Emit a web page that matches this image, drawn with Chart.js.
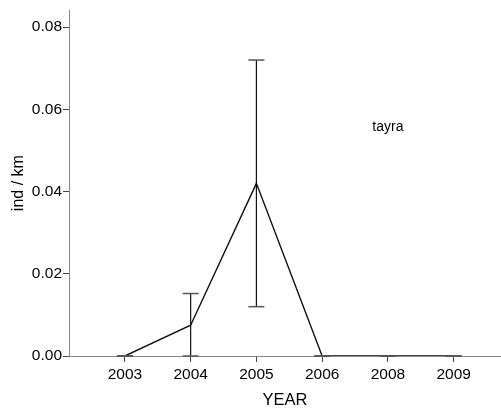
<!DOCTYPE html>
<html><head><meta charset="utf-8">
<script src="https://cdn.jsdelivr.net/npm/chart.js@4/dist/chart.umd.min.js"></script>
<style>html,body{margin:0;padding:0;background:#fff}#w{width:501px;height:411px}</style>
</head><body><div id="w"><canvas id="c"></canvas></div>
<script>
const years = ['2003','2004','2005','2006','2008','2009'];
const means = [0, 0.0075, 0.042, 0, 0, 0];
const errLow = [0, 0, 0.012, 0, 0, 0];
const errHigh = [0, 0.0152, 0.072, 0, 0, 0];
const yTicks = [0, 0.02, 0.04, 0.06, 0.08];
const FONT = "'Liberation Sans', Arial, sans-serif";

const errorBars = {
  id: 'errorBars',
  afterDatasetsDraw(chart) {
    const {ctx, scales: {x, y}} = chart;
    ctx.save();
    means.forEach((m, i) => {
      const px = x.getPixelForValue(i);
      const yl = y.getPixelForValue(errLow[i]);
      const yh = y.getPixelForValue(errHigh[i]);
      ctx.strokeStyle = '#111';
      ctx.lineWidth = 1.2;
      if (yh !== yl) {
        ctx.beginPath(); ctx.moveTo(px, yl); ctx.lineTo(px, yh); ctx.stroke();
      }
      ctx.strokeStyle = '#555';
      ctx.lineWidth = 1.5;
      [yl, yh].forEach(v => {
        ctx.beginPath(); ctx.moveTo(px - 8, v); ctx.lineTo(px + 8, v); ctx.stroke();
      });
    });
    ctx.fillStyle = '#000';
    ctx.font = '14px ' + FONT;
    ctx.textAlign = 'center';
    ctx.textBaseline = 'middle';
    ctx.fillText('tayra', x.getPixelForValue(4.0), y.getPixelForValue(0.0557));
    ctx.restore();
  }
};

new Chart(document.getElementById('c'), {
  type: 'line',
  data: {
    datasets: [{
      data: means.map((v, i) => ({x: i, y: v})),
      borderColor: '#111',
      borderWidth: 1.4,
      pointRadius: 0,
      tension: 0,
      fill: false
    }]
  },
  options: {
    responsive: true,
    maintainAspectRatio: false,
    animation: false,
    devicePixelRatio: 1,
    layout: {padding: {top: 10, right: 0, bottom: 0, left: 0}},
    plugins: {legend: {display: false}, tooltip: {enabled: false}},
    scales: {
      x: {
        type: 'linear',
        min: -0.85,
        max: 5.72,
        afterBuildTicks(s) { s.ticks = years.map((_, i) => ({value: i})); },
        afterFit(s) { s.height = 55; },
        ticks: {
          callback: (v) => years[v] ?? '',
          color: '#000',
          font: {size: 15.5, family: FONT},
          padding: 3,
          maxRotation: 0,
          autoSkip: false
        },
        grid: {display: true, drawOnChartArea: false, drawTicks: true, tickLength: 6, color: '#444'},
        border: {display: true, color: '#888', width: 1},
        title: {display: true, text: 'YEAR', color: '#000', font: {size: 16.5, family: FONT}, padding: {top: 0, bottom: 1}}
      },
      y: {
        min: 0,
        max: 0.0841,
        afterBuildTicks(s) { s.ticks = yTicks.map(v => ({value: v})); },
        afterFit(s) { s.width = 69; },
        ticks: {
          callback: (v) => v.toFixed(2),
          color: '#000',
          font: {size: 15.5, family: FONT},
          padding: 1
        },
        grid: {display: true, drawOnChartArea: false, drawTicks: true, tickLength: 6, color: '#444'},
        border: {display: true, color: '#888', width: 1},
        title: {display: true, text: 'ind / km', color: '#000', font: {size: 16, family: FONT}, padding: {top: 9, bottom: 0}}
      }
    }
  },
  plugins: [errorBars]
});
</script>
</body></html>
